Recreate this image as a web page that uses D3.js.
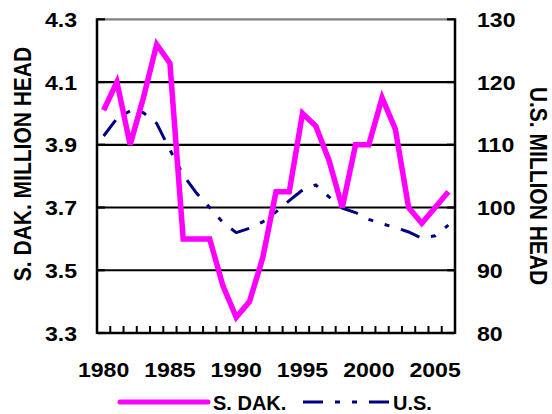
<!DOCTYPE html>
<meta charset="utf-8">
<title>S. Dak. and U.S. cattle</title>
<body style="margin:0;background:#fff">
<style>
body { font-family: "Liberation Sans", Arial, sans-serif; }
text { font-weight: bold; fill: #000; }
</style>
<div id="chart"></div>
<script src="https://d3js.org/d3.v7.min.js"></script>
<script>
// data
var years = [1980, 1981, 1982, 1983, 1984, 1985, 1986, 1987, 1988, 1989,
             1990, 1991, 1992, 1993, 1994, 1995, 1996, 1997, 1998, 1999,
             2000, 2001, 2002, 2003, 2004, 2005, 2006];
var sdak = [4.01, 4.10, 3.90, 4.05, 4.22, 4.16, 3.60, 3.60, 3.60, 3.45,
            3.35, 3.40, 3.54, 3.75, 3.75, 4.00, 3.96, 3.85, 3.70, 3.90,
            3.90, 4.05, 3.95, 3.70, 3.65, 3.70, 3.75];
var us = [111.4, 114.2, 115.4, 115.1, 113.4, 109.2, 105.2, 102.3, 100.0, 97.6,
          96.0, 96.7, 97.7, 99.3, 101.1, 102.8, 103.6, 101.7, 99.9, 99.2,
          98.1, 97.4, 96.8, 96.1, 95.1, 95.5, 97.2];
var leftTicks = [3.3, 3.5, 3.7, 3.9, 4.1, 4.3];
var rightTicks = [80, 90, 100, 110, 120, 130];
var yearLabels = [1980, 1985, 1990, 1995, 2000, 2005];

var W = 552, H = 414;
// plot box (note: "top" is taken by window.top, so use other names)
var plotL = 97, plotR = 455, plotT = 19.3, plotB = 333;

var svg = d3.select("#chart").append("svg")
    .attr("width", W)
    .attr("height", H);

var x = d3.scaleBand().domain(years).range([plotL, plotR]);
var cx = function(d) { return x(d) + x.bandwidth() / 2; };
var yL = d3.scaleLinear().domain([3.3, 4.3]).range([plotB, plotT]);
var yR = d3.scaleLinear().domain([80, 130]).range([plotB, plotT]);

// gridlines
svg.selectAll(".grid")
    .data(leftTicks.slice(1))
  .enter().append("line")
    .attr("x1", plotL).attr("x2", plotR)
    .attr("y1", function(d) { return yL(d); })
    .attr("y2", function(d) { return yL(d); })
    .attr("stroke", function(d) { return d === 4.3 ? "#808080" : "#000"; })
    .attr("stroke-width", 2.2);

// small inward ticks on both axes (show over grey top border)
svg.selectAll(".ltick")
    .data(leftTicks)
  .enter().append("line")
    .attr("x1", plotL).attr("x2", plotL + 8)
    .attr("y1", function(d) { return yL(d); })
    .attr("y2", function(d) { return yL(d); })
    .attr("stroke", "#000").attr("stroke-width", 2.2);
svg.selectAll(".rtick")
    .data(rightTicks)
  .enter().append("line")
    .attr("x1", plotR - 8).attr("x2", plotR)
    .attr("y1", function(d) { return yR(d); })
    .attr("y2", function(d) { return yR(d); })
    .attr("stroke", "#000").attr("stroke-width", 2.2);

// category ticks between years
var edges = years.map(function(d) { return x(d); }).concat([plotR]);
svg.selectAll(".xtick")
    .data(edges)
  .enter().append("line")
    .attr("x1", function(d) { return d; })
    .attr("x2", function(d) { return d; })
    .attr("y1", plotB).attr("y2", plotB - 7)
    .attr("stroke", "#000").attr("stroke-width", 2);

// axis lines
svg.append("line").attr("x1", plotL).attr("x2", plotL).attr("y1", plotT - 1).attr("y2", plotB + 1)
    .attr("stroke", "#000").attr("stroke-width", 2.5);
svg.append("line").attr("x1", plotR).attr("x2", plotR).attr("y1", plotT - 1).attr("y2", plotB + 1)
    .attr("stroke", "#000").attr("stroke-width", 2.5);
svg.append("line").attr("x1", plotL).attr("x2", plotR).attr("y1", plotB).attr("y2", plotB)
    .attr("stroke", "#000").attr("stroke-width", 2.5);

// lines
var usLine = d3.line()
    .x(function(d, i) { return cx(years[i]); })
    .y(function(d) { return yR(d); });
var sdLine = d3.line()
    .x(function(d, i) { return cx(years[i]); })
    .y(function(d) { return yL(d); });

svg.append("path")
    .attr("d", usLine(us))
    .attr("fill", "none")
    .attr("stroke", "#000080")
    .attr("stroke-width", 3)
    .attr("stroke-dasharray", "20,12,5,12,5,12");

svg.append("path")
    .attr("d", sdLine(sdak))
    .attr("fill", "none")
    .attr("stroke", "#ff00ff")
    .attr("stroke-width", 5.5);

// tick labels
svg.selectAll(".ll")
    .data(leftTicks)
  .enter().append("text")
    .attr("transform", function(d) { return "translate(77," + yL(d) + ") scale(1.1,1)"; })
    .attr("dy", "0.36em")
    .attr("text-anchor", "end")
    .style("font-size", "21px")
    .text(function(d) { return d3.format(".1f")(d); });

svg.selectAll(".rl")
    .data(rightTicks)
  .enter().append("text")
    .attr("transform", function(d) { return "translate(477," + yR(d) + ") scale(1.1,1)"; })
    .attr("dy", "0.36em")
    .attr("text-anchor", "start")
    .style("font-size", "21px")
    .text(function(d) { return d; });

svg.selectAll(".xl")
    .data(yearLabels)
  .enter().append("text")
    .attr("transform", function(d) { return "translate(" + cx(d) + ",377) scale(1.1,1)"; })
    .attr("text-anchor", "middle")
    .style("font-size", "21px")
    .text(function(d) { return d; });

// axis titles
svg.append("text")
    .attr("transform", "translate(23,164) scale(1.1,1) rotate(-90)")
    .attr("text-anchor", "middle")
    .attr("dy", "0.36em")
    .style("font-size", "21px")
    .text("S. DAK. MILLION HEAD");

svg.append("text")
    .attr("transform", "translate(538,186) scale(1.1,1) rotate(90)")
    .attr("text-anchor", "middle")
    .attr("dy", "0.36em")
    .style("font-size", "21px")
    .text("U.S. MILLION HEAD");

// legend
var lg = svg.append("g");
lg.append("line").attr("x1", 120).attr("x2", 208).attr("y1", 402).attr("y2", 402)
    .attr("stroke", "#ff00ff").attr("stroke-width", 5).attr("stroke-linecap", "round");
lg.append("text").attr("x", 213).attr("y", 409.5).style("font-size", "20px").text("S. DAK.");
lg.append("line").attr("x1", 303).attr("x2", 389).attr("y1", 402).attr("y2", 402)
    .attr("stroke", "#000080").attr("stroke-width", 3)
    .attr("stroke-dasharray", "20,12,5,12,5,12");
lg.append("text").attr("x", 393).attr("y", 409.5).style("font-size", "20px").text("U.S.");
</script>
</body>
